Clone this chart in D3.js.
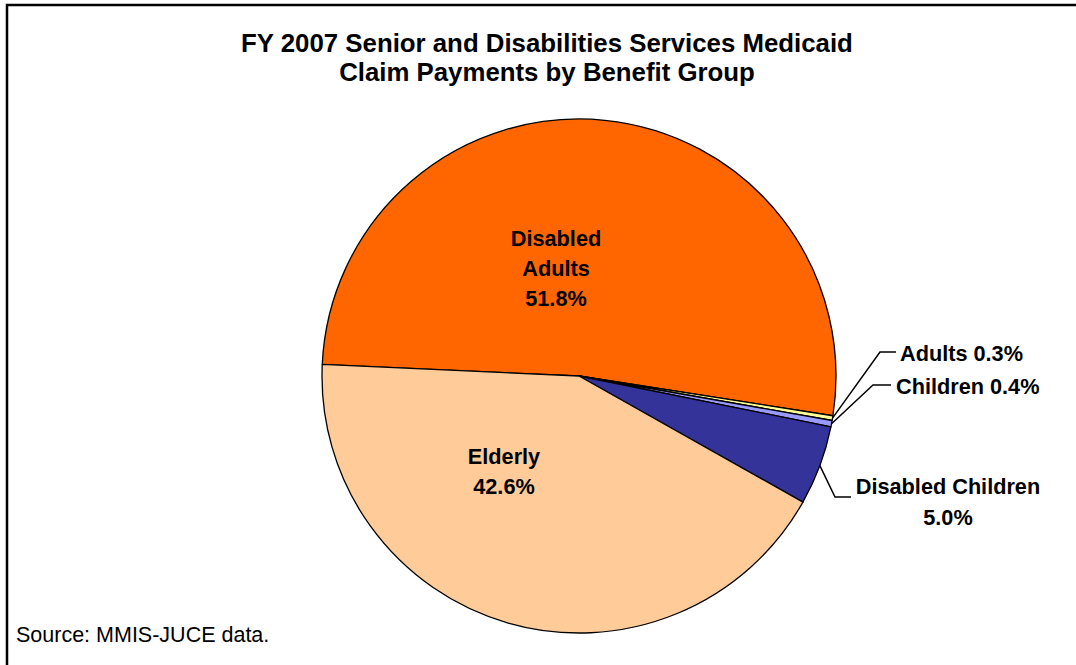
<!DOCTYPE html>
<html>
<head>
<meta charset="utf-8">
<script src="https://cdn.jsdelivr.net/npm/d3@7"></script>
<style>
  html, body { margin: 0; padding: 0; background: #fff; }
  svg { display: block; }
  text { font-family: "Liberation Sans", Arial, sans-serif; fill: #000; }
</style>
</head>
<body>
<svg id="chart" width="1076" height="665"></svg>
<script>
// Benefit groups in drawing order (clockwise)
const groups = ["Disabled Adults", "Adults", "Children", "Disabled Children", "Elderly"];
const shares = [51.8, 0.3, 0.4, 5.0, 42.6];
const colors = ["#FF6600", "#FFFF99", "#9999FF", "#333399", "#FFCC99"];
const titleLines = ["FY 2007 Senior and Disabilities Services Medicaid", "Claim Payments by Benefit Group"];
const sourceNote = "Source: MMIS-JUCE data.";

const data = groups.map((g, i) => ({ group: g, share: shares[i], color: colors[i] }));

const svg = d3.select("#chart");
const W = 1076, H = 665;
const labelSize = 21.7;

// Outer chart frame (runs off the right and bottom edges)
svg.append("rect")
  .attr("x", 7).attr("y", 5)
  .attr("width", W + 20).attr("height", H + 20)
  .attr("fill", "#fff").attr("stroke", "#000").attr("stroke-width", 2.5);

// Title
const title = svg.append("text")
  .attr("text-anchor", "middle")
  .attr("font-weight", "bold")
  .attr("font-size", 25.8);
titleLines.forEach((t, i) => {
  title.append("tspan").attr("x", 547).attr("y", 52 + i * 29).text(t);
});

// Pie
const cx = 579, cy = 376, R = 257;
const start = -87.4 * Math.PI / 180;
const pie = d3.pie().value(d => d.share).sort(null)
  .startAngle(start).endAngle(start + 2 * Math.PI);
const arcs = pie(data);
const arc = d3.arc().innerRadius(0).outerRadius(R);

const g = svg.append("g").attr("transform", `translate(${cx},${cy})`);
g.selectAll("path.slice")
  .data(arcs)
  .join("path")
  .attr("class", "slice")
  .attr("d", arc)
  .attr("fill", d => d.data.color)
  .attr("stroke", "#000")
  .attr("stroke-width", 1.3)
  .attr("stroke-linejoin", "round");

const fmt = v => v.toFixed(1) + "%";
const mid = d => (d.startAngle + d.endAngle) / 2;
const edgePt = (d, r) => [Math.sin(mid(d)) * r, -Math.cos(mid(d)) * r];

// Labels inside the two large slices
function innerLabel(x, y, lines) {
  const t = svg.append("text")
    .attr("text-anchor", "middle")
    .attr("font-weight", "bold")
    .attr("font-size", labelSize);
  lines.forEach((l, i) => t.append("tspan").attr("x", x).attr("y", y + i * 30).text(l));
}
innerLabel(556, 246, ["Disabled", "Adults", fmt(arcs[0].data.share)]);
innerLabel(504, 464, [arcs[4].data.group, fmt(arcs[4].data.share)]);

// Leader-line labels for the small slices
const leader = svg.append("g")
  .attr("fill", "none").attr("stroke", "#000").attr("stroke-width", 1.5);

function outerLabel(d, elbow, end) {
  const p = edgePt(d, R);
  leader.append("polyline")
    .attr("points", [[cx + p[0], cy + p[1]], elbow, end].map(q => q.join(",")).join(" "));
}

// Adults
outerLabel(arcs[1], [880, 352], [896, 352]);
svg.append("text").attr("x", 900).attr("y", 361)
  .attr("font-weight", "bold").attr("font-size", labelSize)
  .text(`${arcs[1].data.group} ${fmt(arcs[1].data.share)}`);

// Children
outerLabel(arcs[2], [873, 385], [891, 385]);
svg.append("text").attr("x", 896).attr("y", 394)
  .attr("font-weight", "bold").attr("font-size", labelSize)
  .text(`${arcs[2].data.group} ${fmt(arcs[2].data.share)}`);

// Disabled Children
outerLabel(arcs[3], [835, 497], [851, 497]);
const dc = svg.append("text").attr("text-anchor", "middle")
  .attr("font-weight", "bold").attr("font-size", labelSize);
dc.append("tspan").attr("x", 948).attr("y", 494).text(arcs[3].data.group);
dc.append("tspan").attr("x", 948).attr("y", 525).text(fmt(arcs[3].data.share));

// Source note
svg.append("text").attr("x", 16).attr("y", 642)
  .attr("font-size", 21.5).text(sourceNote);
</script>
</body>
</html>
